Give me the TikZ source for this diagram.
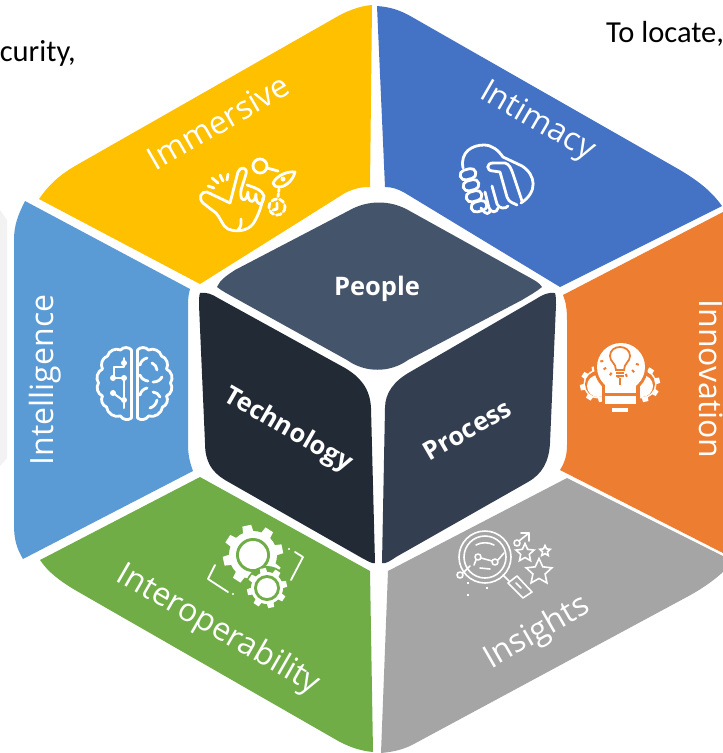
\documentclass[tikz,border=0pt]{standalone}
\usepackage{fontspec}
\setmainfont{Open Sans}
\newfontfamily\notefont{Carlito}
\usetikzlibrary{shapes.geometric}

\definecolor{immersive}{HTML}{FFC000}
\definecolor{intimacy}{HTML}{4472C4}
\definecolor{innovation}{HTML}{ED7D31}
\definecolor{insights}{HTML}{A5A5A5}
\definecolor{interop}{HTML}{70AD47}
\definecolor{intelligence}{HTML}{5B9BD5}
\definecolor{people}{HTML}{44546A}
\definecolor{technology}{HTML}{222A35}
\definecolor{process}{HTML}{333F50}

\tikzset{
	petal/.style={text=white, font=\fontsize{32}{32}\selectfont, inner sep=0pt},
	cube/.style={text=white, font=\fontsize{25.5}{25.5}\selectfont\bfseries, inner sep=0pt},
	note/.style={text=black, font=\notefont\fontsize{30.5}{31}\selectfont, inner sep=0pt},
	icon/.style={draw=white, line width=2.8pt, line cap=round, line join=round},
	thinicon/.style={draw=white, line width=1.6pt, line cap=round, line join=round},
	starmark/.style={star, star points=5, star point ratio=2.1, draw=white, line width=1.6pt, inner sep=0pt},
}

% gear: centre x, centre y, radius, colour
\newcommand{\gearfill}[4]{
	\fill[#4] (#1,#2) circle (#3*0.8);
	\foreach \ang in {0,45,...,315} {
		\fill[#4, shift={(#1,#2)}, rotate=\ang+12] (-#3*0.2,-#3*0.5) -- (#3*0.2,-#3*0.5) -- (#3*0.15,-#3) -- (-#3*0.15,-#3) -- cycle;
	}
}

\begin{document}
\begin{tikzpicture}[x=1pt, y=-1pt]
	\clip (0,0) rectangle (723,753);
	\fill[white] (0,0) rectangle (723,753);
	\fill[black!5] (0,210) -- (7,220) -- (7,458) -- (0,466) -- cycle;

	% outer ring
	\fill[immersive] (39,199) .. controls (48,186) and (58,176) .. (75,166) -- (340,15) .. controls (350,10) and (360,6) .. (372,5) -- (370,187) .. controls (362,187) and (355,188) .. (345,193) -- (200,284) -- cycle;
	\fill[intimacy] (377,6) .. controls (390,7) and (400,10) .. (412,17) -- (680,170) .. controls (700,182) and (712,192) .. (722,206) -- (560,287) -- (405,193) .. controls (398,189) and (392,187) .. (385,187) -- cycle;
	\fill[innovation] (563,295) -- (723,212) -- (723,553) -- (560,470) .. controls (565,462) and (567,455) .. (567,445) -- (567,320) .. controls (567,310) and (566,302) .. (563,295) -- cycle;
	\fill[insights] (567,478) -- (723,556) -- (723,572) .. controls (712,582) and (700,590) .. (685,598) -- (412,745) .. controls (402,750) and (392,752) .. (381,753) -- (388,571) -- cycle;
	\fill[interop] (200,477) -- (370,571) -- (373,752) .. controls (362,751) and (352,748) .. (340,742) -- (75,590) .. controls (60,581) and (48,572) .. (40,560) -- cycle;
	\fill[intelligence] (25,201) -- (190,289) .. controls (188,295) and (188,302) .. (188,310) -- (188,445) .. controls (188,455) and (190,463) .. (193,471) -- (23,559) .. controls (17,549) and (14,540) .. (14,525) -- (14,240) .. controls (14,225) and (18,215) .. (25,201) -- cycle;

	% inner cube
	\fill[people] (217,287) .. controls (220,280) and (226,276) .. (235,270) -- (350,210) .. controls (368,200) and (390,200) .. (408,210) -- (525,275) .. controls (534,280) and (540,283) .. (542,287) .. controls (536,292) and (530,295) .. (522,300) -- (408,360) .. controls (390,373) and (365,373) .. (347,360) -- (235,298) .. controls (228,294) and (222,291) .. (217,287) -- cycle;
	\fill[technology] (200,293) .. controls (206,292) and (212,294) .. (218,298) -- (345,368) .. controls (360,377) and (370,388) .. (371,408) -- (375,563) .. controls (372,564) and (368,561) .. (362,558) -- (225,480) .. controls (212,472) and (205,462) .. (205,443) -- (199,305) .. controls (199,300) and (199,296) .. (200,293) -- cycle;
	\fill[process] (555,293) .. controls (548,292) and (542,295) .. (536,299) -- (410,372) .. controls (394,381) and (385,393) .. (385,408) -- (382,563) .. controls (386,564) and (390,561) .. (396,557) -- (528,482) .. controls (542,474) and (549,462) .. (550,443) -- (556,305) .. controls (556,300) and (556,296) .. (555,293) -- cycle;

	% labels
	\node[petal, rotate=30] (immersivelabel) at (218,122) {Immersive};
	\node[petal, rotate=-30] (intimacylabel) at (537,122) {Intimacy};
	\node[petal, rotate=-90] (innovationlabel) at (711,379) {Innovation};
	\node[petal, rotate=30] (insightslabel) at (537,633) {Insights};
	\node[petal, rotate=-30] (interoplabel) at (218,630) {Interoperability};
	\node[petal, rotate=90] (intelligencelabel) at (45,380) {Intelligence};
	\node[cube] (peoplelabel) at (377,288.5) {People};
	\node[cube, rotate=-30] (technologylabel) at (288,430) {Technology};
	\node[cube, rotate=30] (processlabel) at (467,430) {Process};
	\node[note, anchor=base west] (locatenote) at (606,42.5) {To locate,};
	\node[note, anchor=base east] (securitynote) at (76,61) {curity,};

	% hand icon
	\draw[icon] (230,203) -- (207,192) .. controls (201,191) and (198,198) .. (203,203) -- (216,213) .. controls (221,218) and (222,226) .. (228,229) .. controls (238,233) and (248,230) .. (253,224) .. controls (258,216) and (261,208) .. (263,198);
	\draw[icon] (230,203) -- (238,172) .. controls (240,166) and (248,167) .. (246,174) -- (241,190);
	\draw[icon] (241,190) .. controls (239,202) and (247,203) .. (248,192) .. controls (247,203) and (255,205) .. (256,194) .. controls (255,205) and (263,208) .. (264,196) .. controls (262,190) and (256,188) .. (247,185);
	\draw[icon] (238,230) .. controls (242,226) and (241,222) .. (241,219);
	\draw[icon] (208,186) -- (214,188);
	\draw[icon] (212,178) -- (218,183);
	\draw[icon] (220,175) -- (223,181);
	\draw[icon] (228,174) -- (227,180);
	\draw[icon] (260,166) circle (7);
	\draw[icon] (267,168) -- (278,171);
	\draw[icon] (273,183) .. controls (277,175) and (288,171) .. (295,172) .. controls (293,181) and (283,190) .. (275,186) -- cycle;
	\fill[white] (283,179) circle (2.5);
	\draw[icon, dotted] (279,189) -- (278,197);
	\draw[icon, dash pattern=on 5pt off 3pt] (277,207) circle (8);
	\draw[icon] (277,203) -- (277,209) -- (273,210);

	% handshake icon
	\draw[icon] (463,168) .. controls (460,152) and (472,145) .. (484,145) .. controls (492,145) and (498,150) .. (503,157) -- (522,166) .. controls (536,175) and (538,192) .. (521,203);
	\draw[icon] (493,163) -- (505,163) .. controls (509,164) and (511,168) .. (513,174) -- (522,201);
	\draw[icon] (493,163) .. controls (486,163) and (486,171) .. (493,171) -- (500,172) -- (507,197) .. controls (509,203) and (514,203) .. (517,205);
	\draw[icon] (492,186) -- (497,204) .. controls (499,209) and (506,209) .. (508,206);
	\draw[icon] (485,192) -- (489,208) .. controls (491,213) and (497,213) .. (498,208);
	\draw[icon] (481,208) .. controls (486,216) and (490,214) .. (490,210);
	\foreach \fx/\fy in {469/174, 472/185, 475/196, 480/206} {
		\draw[icon, rounded corners=5pt, rotate around={15:(\fx,\fy)}] (\fx-9,\fy-5) rectangle (\fx+7,\fy+5);
	}

	% brain icon
	\foreach \side in {1,-1} {
		\begin{scope}[shift={(134.5,385)}, xscale=\side]
			\draw[icon] (-3,-35) to[bend right=50] (-14,-35) to[bend right=50] (-27,-29) to[bend right=50] (-32,-16) to[bend right=50] (-36,-2) to[bend right=50] (-32,11) to[bend right=50] (-28,22) to[bend right=50] (-14,31) to[bend right=50] (-3,33);
			\draw[icon] (-3,-35) -- (-3,33);
		\end{scope}
	}
	\draw[thinicon, line width=2pt] (124,358) -- (124,367) -- (114,367) -- (114,378) -- (124,378) -- (124,408);
	\draw[thinicon, line width=2pt] (113,393) -- (124,401);
	\foreach \dx/\dy in {124/363, 113/378, 124/378, 113/393, 124/400} {
		\fill[white] (\dx,\dy) circle (3);
	}
	\draw[icon] (140,365) to[bend left=30] (147,358);
	\draw[icon] (152,363) to[bend left=30] (157,370);
	\draw[icon] (140,375) to[bend right=30] (148,381);
	\draw[icon] (153,382) to[bend right=30] (162,377);
	\draw[icon] (140,395) to[bend left=30] (147,388);
	\draw[icon] (153,392) to[bend left=30] (160,397);
	\draw[icon] (157,400) to[bend left=30] (150,408);

	% bulb icon
	\gearfill{598}{384}{18}{white}
	\gearfill{642}{384}{18}{white}
	\fill[innovation] (598,384) circle (13);
	\fill[innovation] (642,384) circle (13);
	\fill[white] (598,386) circle (11);
	\fill[white] (642,386) circle (11);
	\fill[innovation] (621,367) circle (27);
	\fill[innovation] (602,382) rectangle (640,415);
	\fill[white] (621,367) circle (24);
	\fill[white] (598,368) -- (606,386) -- (636,386) -- (644,368) -- cycle;
	\draw[innovation, line width=1.8pt] (616,370) .. controls (616,363) and (610,362) .. (610,356) .. controls (610,344) and (630,344) .. (630,356) .. controls (630,362) and (624,363) .. (624,370) -- cycle;
	\draw[innovation, line width=1.6pt] (616,373) -- (624,373);
	\draw[innovation, line width=1.6pt] (616,376) -- (624,376);
	\draw[innovation, line width=1.8pt] (620,378) -- (620,386);
	\foreach \ang in {-170,-145,...,-10} {
		\fill[innovation, shift={(620,358)}, rotate=\ang] (17,-1) rectangle (20,1);
	}
	\fill[white] (605,385) rectangle (636,393);
	\fill[white] (605,396) rectangle (636,404);
	\fill[white] (612,408) rectangle (628,412);

	% magnifier icon
	\draw[thinicon] (485,557) circle (26);
	\draw[thinicon] (485,557) circle (21);
	\draw[thinicon] (460,575) circle (3);
	\draw[thinicon] (478,557) circle (3);
	\draw[thinicon] (495,562) circle (3);
	\draw[thinicon] (517,543) circle (3);
	\draw[thinicon] (463,573) -- (470,566);
	\draw[thinicon] (474,565) -- (476,560);
	\draw[thinicon] (481,558) -- (492,561);
	\draw[thinicon] (498,560) -- (504,553);
	\draw[thinicon] (519,541) -- (529,533);
	\draw[thinicon] (521,533) -- (529,533) -- (529,541);
	\draw[thinicon] (476,545) .. controls (481,542) and (489,542) .. (494,545);
	\draw[thinicon] (480,568) -- (490,569);
	\draw[thinicon] (503,575) -- (509,581);
	\draw[thinicon] (508,583) -- (517,576) -- (532,592) -- (523,598) -- cycle;
	\draw[thinicon] (516,583) -- (521,588);
	\node[starmark, minimum size=19pt] (staronei) at (525,553) {};
	\node[starmark, minimum size=11pt] (startwo) at (545,551) {};
	\node[starmark, minimum size=27pt] (starthree) at (539,572) {};
	\foreach \dx/\dy in {468/583, 487/588, 468/595} {
		\fill[white] (\dx-1.2,\dy-1.2) rectangle (\dx+1.2,\dy+1.2);
	}

	% gears icon
	\gearfill{253}{555}{30}{white}
	\fill[interop] (253,555) circle (17);
	\fill[white] (253,555) circle (14);
	\fill[interop] (267,588) circle (22);
	\gearfill{267}{588}{20}{white}
	\fill[interop] (267,588) circle (13);
	\fill[white] (267,588) circle (10);
	\draw[icon, line width=1.8pt] (215,565) -- (208,579) -- (228,592);
	\draw[icon, line width=1.8pt] (295,552) -- (303,557) -- (291,580);
	\fill[white] (233,594) circle (1.2);
	\fill[white] (289,549) circle (1.2);
\end{tikzpicture}
\end{document}
